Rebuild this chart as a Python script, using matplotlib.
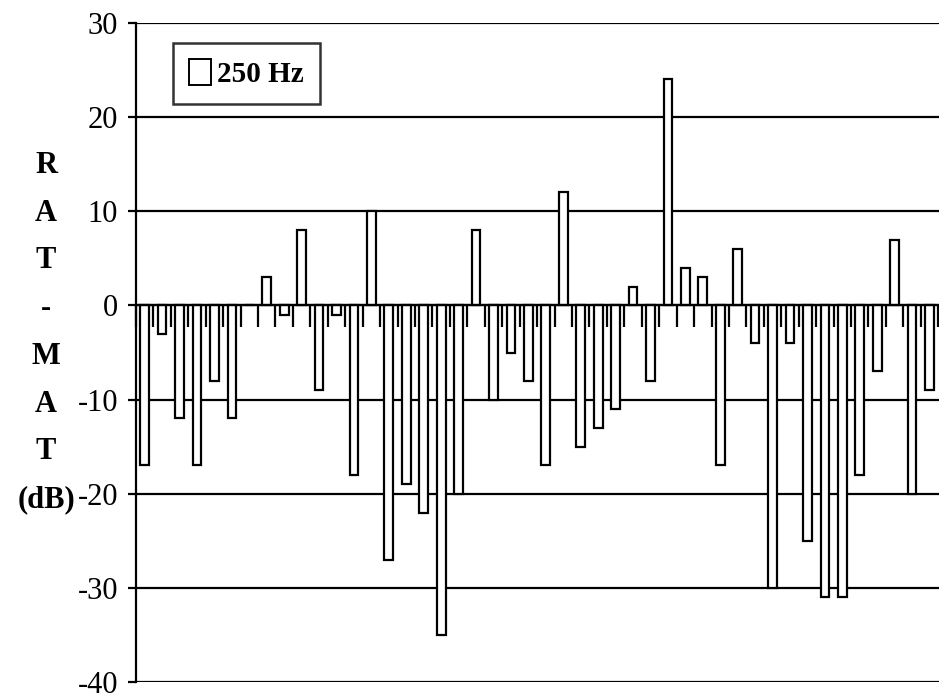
import numpy as np
import matplotlib
matplotlib.use("Agg")
import matplotlib.pyplot as plt
from matplotlib.patches import Patch

# RAT - MAT differences at 250 Hz, one value per subject
values = [-17, -3, -12, -17, -8, -12, 0, 3, -1, 8,
          -9, -1, -18, 10, -27, -19, -22, -35, -20, 8,
          -10, -5, -8, -17, 12, -15, -13, -11, 2, -8,
          24, 4, 3, -17, 6, -4, -30, -4, -25, -31,
          -31, -18, -7, 7, -20, -9]
series_label = "250 Hz"
y_ticks = [-40, -30, -20, -10, 0, 10, 20, 30]
y_title = ["R", "A", "T", "-", "M", "A", "T", "(dB)"]

serif = ["Liberation Serif", "DejaVu Serif"]

fig = plt.figure(figsize=(9.39, 6.97), dpi=100)
ax = fig.add_axes([0.1448, 0.0215, 0.857, 0.9455])

x = np.arange(len(values))
ax.bar(x, values, width=0.5, color="white", edgecolor="black",
       linewidth=1.6, zorder=3, label=series_label)

ax.set_xlim(-0.49, 45.64)
ax.set_ylim(-40, 30)

# horizontal grid lines
ax.set_yticks(y_ticks)
ax.yaxis.grid(True, color="black", linewidth=1.6, zorder=1)
ax.set_axisbelow(True)

# category axis crossing at zero with boundary ticks pointing down
ax.spines["bottom"].set_position(("data", 0))
ax.spines["bottom"].set_linewidth(1.6)
ax.spines["bottom"].set_zorder(4)
ax.spines["top"].set_visible(False)
ax.spines["right"].set_visible(False)
ax.spines["left"].set_linewidth(1.6)
ax.set_xticks(np.arange(-0.5, len(values), 1.0))
ax.tick_params(axis="x", direction="out", length=16, width=1.6,
               labelbottom=False)
ax.tick_params(axis="y", direction="out", length=6, width=1.6, pad=7)
ax.set_yticklabels([str(v) for v in y_ticks], fontfamily=serif,
                   fontsize=22)

# stacked axis title
fig.text(0.049, 0.523, "\n".join(y_title), ha="center", va="center",
         fontfamily=serif, fontweight="bold", fontsize=22,
         linespacing=1.85)

leg = ax.legend(handles=[Patch(facecolor="white", edgecolor="black",
                               linewidth=1.4, label=series_label)],
                loc="upper left", bbox_to_anchor=(0.046, 0.97),
                frameon=True, fancybox=False, edgecolor="black",
                handlelength=0.75, handleheight=1.0, handletextpad=0.2,
                borderpad=0.55, borderaxespad=0,
                prop={"family": serif, "weight": "bold", "size": 21})
leg.get_frame().set_linewidth(1.8)
leg.set_zorder(5)

fig.savefig("out.png", dpi=100)
